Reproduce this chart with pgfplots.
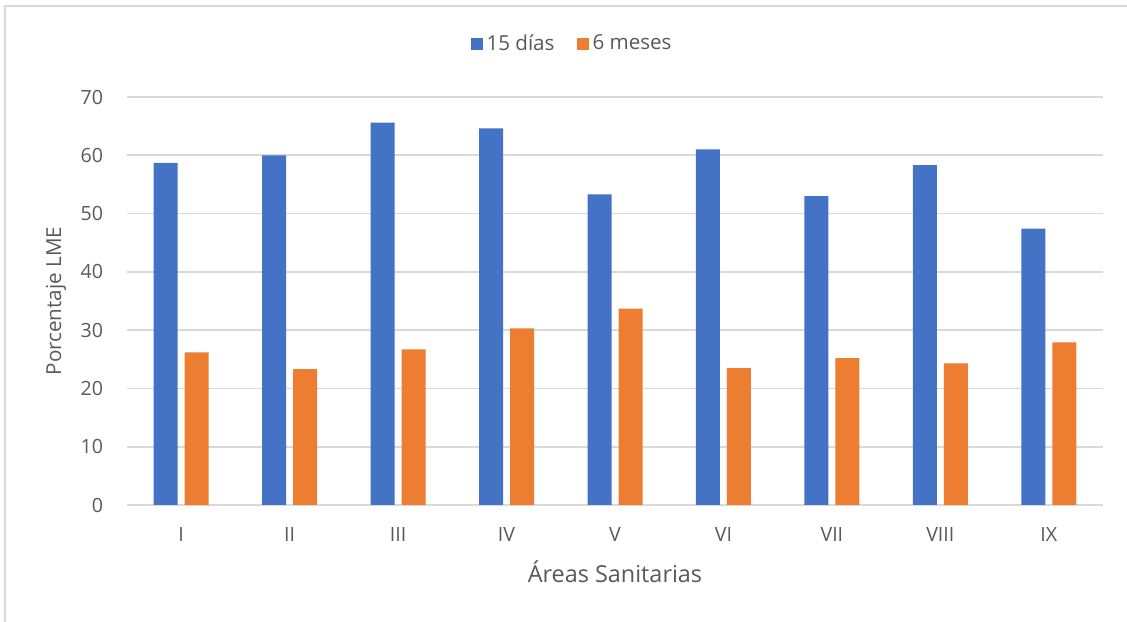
\documentclass[border=0pt]{standalone}
\usepackage{pgfplots}
\pgfplotsset{compat=1.18}
\usepackage{fontspec}
\setmainfont{Open Sans}
\definecolor{serA}{HTML}{4472C4}
\definecolor{serB}{HTML}{ED7D31}
\definecolor{txt}{HTML}{595959}
\definecolor{grd}{HTML}{D9D9D9}
\begin{document}
\begin{tikzpicture}
	\useasboundingbox (0,0) rectangle (563.5bp,311bp);
	\draw[grd, line width=0.8bp] (2.5bp,0) -- (2.5bp,308bp) -- (563.5bp,308bp);
	\begin{axis}[
	at={(63.5bp,58.5bp)}, anchor=origin,
	scale only axis,
	width=488bp, height=204bp,
	xmin=0.5, xmax=9.5,
	ymin=0, ymax=70,
	ytick={0,10,20,30,40,50,60,70},
	xtick={1,2,3,4,5,6,7,8,9},
	xticklabels={I,II,III,IV,V,VI,VII,VIII,IX},
	axis line style={draw=none},
	major tick length=0pt,
	ymajorgrids=true,
	grid style={grd, line width=0.8bp},
	/pgf/number format/assume math mode=true,
	ticklabel style={font=\fontsize{9.8bp}{12bp}\selectfont, text=txt},
	yticklabel style={xshift=-8.5bp},
	xticklabel style={yshift=-7.5bp},
	xlabel={Áreas Sanitarias},
	ylabel={Porcentaje LME},
	label style={text=txt},
	xlabel style={font=\fontsize{11.7bp}{14bp}\selectfont, at={(axis description cs:0.5,-0.191)}, anchor=base},
	ylabel style={font=\fontsize{10.3bp}{13bp}\selectfont, at={(axis description cs:-0.0727,0.5)}, anchor=center},
	legend columns=2,
	legend style={at={(axis description cs:0.457,1.13)}, anchor=center, draw=none,
		font=\fontsize{10.3bp}{12bp}\selectfont, text=txt,
		/tikz/every even column/.append style={column sep=9bp}},
	legend image code/.code={\fill[#1] (0bp,-3.2bp) rectangle (6bp,3.2bp);},
	]
	\addplot[ybar, bar width=12bp, bar shift=-7.75bp, fill=serA, draw=none]
	coordinates {
		(1,58.7)(2,60.0)(3,65.6)(4,64.6)(5,53.3)(6,61.0)(7,53.0)(8,58.3)(9,47.4)
	};
	\addplot[ybar, bar width=12bp, bar shift=7.75bp, fill=serB, draw=none]
	coordinates {
		(1,26.2)(2,23.3)(3,26.7)(4,30.3)(5,33.7)(6,23.5)(7,25.2)(8,24.3)(9,27.9)
	};
	\legend{15 días, 6 meses}
	\end{axis}
\end{tikzpicture}
\end{document}
